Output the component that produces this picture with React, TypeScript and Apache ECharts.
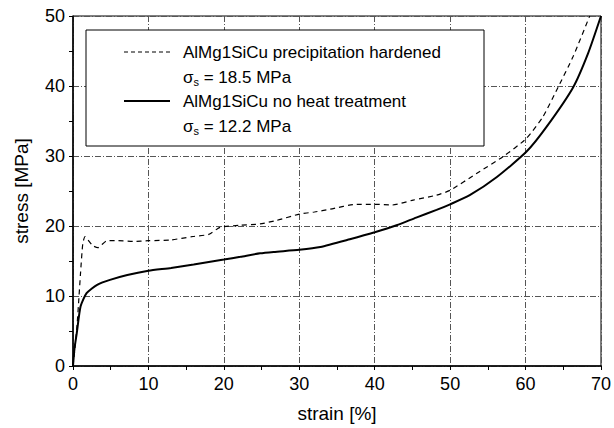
import React, { useEffect, useRef } from "react";
import * as echarts from "echarts";

const xTicks = [0, 10, 20, 30, 40, 50, 60, 70];
const yTicks = [0, 10, 20, 30, 40, 50];

const hardenedName = "AlMg1SiCu precipitation hardened";
const hardenedSigma = "18.5 MPa";
const hardenedStrain = [0, 0.3, 0.55, 0.8, 1.0, 1.3, 1.6, 2.0, 2.6, 3.3, 4.5, 6, 8, 10, 12.9, 15.9, 18, 19.5, 22.2, 24.8, 27, 30, 32, 34.1, 37.6, 40, 42.3, 45.1, 48.2, 50, 53.5, 57, 60.1, 62.3, 64.3, 66.3, 68.5];
const hardenedStress = [0, 3, 6, 10, 13.3, 17.5, 18.5, 18.0, 17.2, 16.9, 17.9, 17.9, 17.8, 17.9, 18.0, 18.5, 18.8, 19.8, 20.1, 20.3, 20.8, 21.7, 22.0, 22.4, 23.1, 23.1, 23.0, 23.7, 24.4, 25.1, 27.5, 29.9, 32.5, 35.6, 39.8, 44.2, 50];

const plainName = "AlMg1SiCu no heat treatment";
const plainSigma = "12.2 MPa";
const plainStrain = [0, 0.2, 0.5, 1.0, 1.8, 3.2, 4.9, 7.2, 10, 13, 16, 20, 22.2, 24.8, 26.6, 30, 32.8, 36.7, 40, 42.9, 45.5, 48.2, 50, 52.6, 56.2, 60.1, 62.8, 66.3, 68.3, 70];
const plainStress = [0, 2.5, 4.7, 8.5, 10.4, 11.6, 12.3, 13.0, 13.6, 14.0, 14.5, 15.2, 15.6, 16.1, 16.3, 16.6, 17.0, 18.1, 19.1, 20.1, 21.2, 22.3, 23.1, 24.4, 27.0, 30.6, 34.2, 39.8, 44.7, 50];

const FONT = "Liberation Sans, Arial, sans-serif";

export default function App() {
  const ref = useRef<HTMLDivElement>(null);
  useEffect(() => {
    document.body.style.margin = "0";
    const chart = echarts.init(ref.current!, null, { renderer: "svg" });
    const pair = (xs: number[], ys: number[]) => xs.map((x, i) => [x, ys[i]]);
    const splitLine = {
      show: true,
      lineStyle: { color: "#555", width: 1, type: [6, 2, 1, 2] as any },
    };
    const sigmaRich = {
      a: { fontSize: 17, fontFamily: FONT, color: "#000" },
      b: { fontSize: 11, fontFamily: FONT, color: "#000", padding: [10, 0, 0, 0] },
    };
    chart.setOption({
      animation: false,
      backgroundColor: "#fff",
      grid: { left: 73, right: 12, top: 16, bottom: 62, show: true, borderColor: "#000", borderWidth: 1, containLabel: false },
      xAxis: {
        type: "value",
        min: xTicks[0],
        max: xTicks[xTicks.length - 1],
        interval: 10,
        name: "strain [%]",
        nameLocation: "middle",
        nameGap: 38,
        nameTextStyle: { fontSize: 19, fontFamily: FONT, color: "#000" },
        axisLine: { lineStyle: { color: "#000", width: 1.5 } },
        axisTick: { show: true, length: 4, lineStyle: { color: "#000" } },
        minorTick: { show: true, splitNumber: 2, length: 4, lineStyle: { color: "#000" } },
        axisLabel: { fontSize: 18, fontFamily: FONT, color: "#000", margin: 9 },
        splitLine,
      },
      yAxis: {
        type: "value",
        min: yTicks[0],
        max: yTicks[yTicks.length - 1],
        interval: 10,
        name: "stress [MPa]",
        nameLocation: "middle",
        nameGap: 42,
        nameTextStyle: { fontSize: 19, fontFamily: FONT, color: "#000" },
        axisLine: { show: true, lineStyle: { color: "#000", width: 1.5 } },
        axisTick: { show: true, length: 4, lineStyle: { color: "#000" } },
        minorTick: { show: true, splitNumber: 2, length: 4, lineStyle: { color: "#000" } },
        axisLabel: { fontSize: 18, fontFamily: FONT, color: "#000", margin: 8 },
        splitLine,
      },
      series: [
        {
          type: "line",
          name: hardenedName,
          data: pair(hardenedStrain, hardenedStress),
          showSymbol: false,
          smooth: 0.2,
          lineStyle: { color: "#000", width: 1.2, type: [5, 4] as any },
          z: 3,
        },
        {
          type: "line",
          name: plainName,
          data: pair(plainStrain, plainStress),
          showSymbol: false,
          smooth: 0.2,
          lineStyle: { color: "#000", width: 2 },
          z: 4,
        },
      ],
      graphic: [
        {
          type: "rect",
          shape: { x: 86, y: 30, width: 398, height: 116 },
          style: { fill: "#fff", stroke: "#000", lineWidth: 1 },
          z: 10,
        },
        {
          type: "line",
          shape: { x1: 124, y1: 52, x2: 170, y2: 52 },
          style: { stroke: "#000", lineWidth: 1.2, lineDash: [4, 3] },
          z: 11,
        },
        {
          type: "line",
          shape: { x1: 124, y1: 101, x2: 170, y2: 101 },
          style: { stroke: "#000", lineWidth: 2 },
          z: 11,
        },
        {
          type: "text",
          x: 183,
          y: 52,
          style: { text: hardenedName, fontSize: 17, fontFamily: FONT, fill: "#000", verticalAlign: "middle" },
          z: 11,
        },
        {
          type: "text",
          x: 183,
          y: 77,
          style: { text: "{a|σ}{b|s}{a| = " + hardenedSigma + "}", rich: sigmaRich, verticalAlign: "middle" },
          z: 11,
        },
        {
          type: "text",
          x: 183,
          y: 101,
          style: { text: plainName, fontSize: 17, fontFamily: FONT, fill: "#000", verticalAlign: "middle" },
          z: 11,
        },
        {
          type: "text",
          x: 183,
          y: 126,
          style: { text: "{a|σ}{b|s}{a| = " + plainSigma + "}", rich: sigmaRich, verticalAlign: "middle" },
          z: 11,
        },
      ],
    });
    return () => chart.dispose();
  }, []);
  return <div ref={ref} style={{ width: 614, height: 428 }} />;
}
